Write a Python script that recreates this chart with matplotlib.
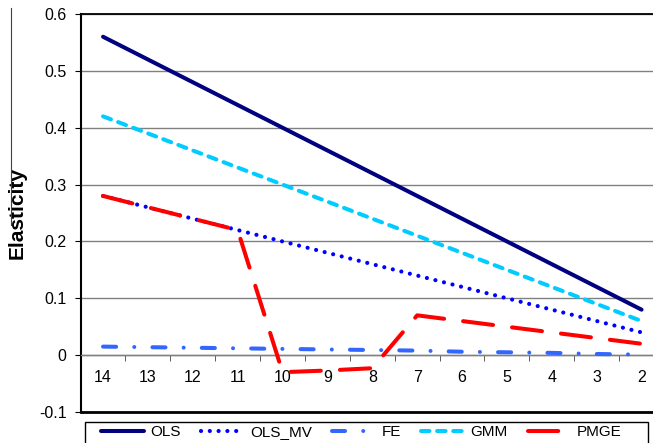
import numpy as np
import matplotlib
matplotlib.use("Agg")
import matplotlib.pyplot as plt
from matplotlib.lines import Line2D
from matplotlib.patches import Rectangle

plt.rcParams['font.family'] = ['Liberation Sans', 'DejaVu Sans']

# categories (read right to left on the chart)
cats = ["14", "13", "12", "11", "10", "9", "8", "7", "6", "5", "4", "3", "2"]

ols = [0.56, 0.52, 0.48, 0.44, 0.40, 0.36, 0.32, 0.28, 0.24, 0.20, 0.16, 0.12, 0.08]
ols_mv = [0.28, 0.26, 0.24, 0.22, 0.20, 0.18, 0.16, 0.14, 0.12, 0.10, 0.08, 0.06, 0.04]
fe = [0.015, 0.014, 0.013, 0.012, 0.011, 0.010, 0.009, 0.008, 0.006, 0.005, 0.004, 0.002, 0.001]
gmm = [0.42, 0.39, 0.36, 0.33, 0.30, 0.27, 0.24, 0.21, 0.18, 0.15, 0.12, 0.09, 0.06]
pmge = [0.28, 0.26, 0.24, 0.22, -0.03, -0.027, -0.023, 0.07, 0.06, 0.05, 0.04, 0.03, 0.02]

W, H = 653, 443
fig = plt.figure(figsize=(W / 100, H / 100), dpi=100)
x0, x1 = 80.6, 664.0
y0, y1 = 14.0, 412.0
ax = fig.add_axes([x0 / W, 1 - y1 / H, (x1 - x0) / W, (y1 - y0) / H])

x = np.arange(len(cats))
lw = 2.9
ax.plot(x, ols, color="#000080", lw=lw, solid_capstyle="round", label="OLS", zorder=3)
ax.plot(x, ols_mv, color="#0000FF", lw=3.0, dashes=(0.01, 2.1),
        dash_capstyle="round", label="OLS_MV", zorder=3)
ax.plot(x, fe, color="#3366FF", lw=lw, dashes=(3.25, 4.5, 0.01, 4.5),
        dash_capstyle="round", label="FE", zorder=3)
ax.plot(x, gmm, color="#00CCFF", lw=lw, dashes=(2.1, 1.9),
        dash_capstyle="round", label="GMM", zorder=3)
ax.plot(x, pmge, color="#FF0000", lw=lw, dashes=(7.5, 4.75),
        dash_capstyle="round", label="PMGE", zorder=4)

ax.set_xlim(-0.5, len(cats) - 0.5)
ax.set_ylim(-0.1, 0.6)
ax.set_yticks(np.arange(-0.1, 0.61, 0.1))
ax.set_yticklabels(["-0.1", "0", "0.1", "0.2", "0.3", "0.4", "0.5", "0.6"])
ax.yaxis.grid(True, color="#808080", lw=1.0)
ax.set_axisbelow(True)

# category axis sits at y = 0
ax.spines["bottom"].set_position(("data", 0))
ax.spines["bottom"].set_color("#808080")
ax.spines["bottom"].set_linewidth(1.0)
ax.spines["right"].set_visible(False)
ax.spines["top"].set_color("black")
ax.spines["top"].set_linewidth(1.3)
ax.spines["left"].set_color("black")
ax.spines["left"].set_linewidth(1.5)
ax.axhline(-0.1, color="black", lw=2.0, clip_on=False, zorder=5)

ax.set_xticks(x)
ax.set_xticklabels(cats)
ax.set_xticks(np.arange(-0.5, len(cats), 1.0), minor=True)
ax.tick_params(axis="x", which="major", length=0, pad=11, labelsize=11.5)
ax.tick_params(axis="x", which="minor", length=4, direction="out", color="#404040")
ax.tick_params(axis="y", length=4, direction="out", pad=6, labelsize=11.5)

ax.set_ylabel("Elasticity", fontsize=15, fontweight="bold")
ax.yaxis.set_label_coords(-(x0 - 27) / (x1 - x0), 0.5)

# thin vertical rule at the far left
fig.add_artist(Line2D([11 / W, 11 / W], [1 - 8 / H, 1 - 225 / H],
                      color="#404040", lw=0.8))

# legend box, partly cut by the bottom edge
fig.add_artist(Rectangle((85 / W, 1 - 452 / H), (648 - 85) / W, 30 / H,
                         transform=fig.transFigure, fill=False,
                         edgecolor="black", lw=1.0))
leg = fig.legend(loc="center left", bbox_to_anchor=(101 / W, 1 - 432 / H),
                 ncol=5, fontsize=11, frameon=False, handlelength=2.8,
                 handletextpad=0.4, columnspacing=1.35, borderpad=0,
                 borderaxespad=0)

fig.savefig("out.png", dpi=100)
